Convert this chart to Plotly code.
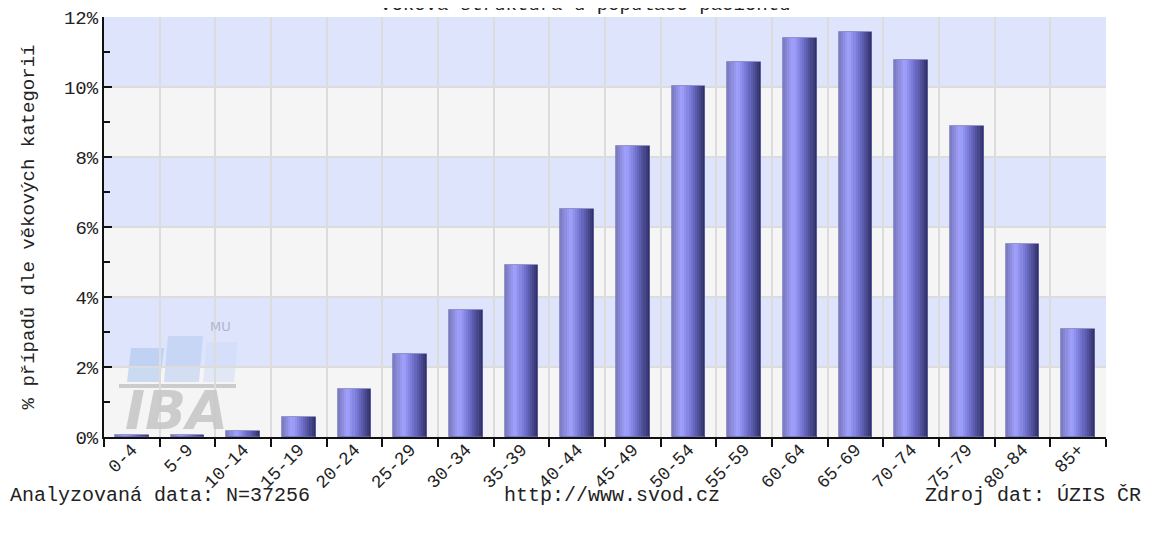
import plotly.graph_objects as go

# ---- data ----
age_groups = ["0-4", "5-9", "10-14", "15-19", "20-24", "25-29", "30-34", "35-39",
              "40-44", "45-49", "50-54", "55-59", "60-64", "65-69", "70-74",
              "75-79", "80-84", "85+"]
percent = [0.05, 0.05, 0.18, 0.58, 1.38, 2.37, 3.62, 4.92, 6.52, 8.31,
           10.03, 10.72, 11.41, 11.57, 10.78, 8.88, 5.52, 3.10]
y_ticks = [0, 2, 4, 6, 8, 10, 12]
y_tick_labels = ["0%", "2%", "4%", "6%", "8%", "10%", "12%"]

title_text = "Věková struktura u populace pacientů"
y_title = "% případů dle věkových kategorií"
footer_left = "Analyzovaná data: N=37256"
footer_mid = "http://www.svod.cz"
footer_right = "Zdroj dat: ÚZIS ČR"

FONT = "Liberation Mono"
FS = 20
OFF = 8  # page body margin
W, H = 1152 - OFF, 538 - OFF
# plot area in page pixels
PL, PR, PT, PB = 104, 1106, 17, 437
ML, MR, MT, MB = PL - OFF, W - (PR - OFF), PT - OFF, H - (PB - OFF)

# ---- gradient colour profile for cylinder-like bars ----
stops = [(0.0, (120, 120, 190)), (0.3, (162, 162, 255)), (0.6, (112, 112, 205)),
         (1.0, (44, 44, 98))]


def grad(t):
    for (t0, c0), (t1, c1) in zip(stops[:-1], stops[1:]):
        if t0 <= t <= t1:
            f = (t - t0) / (t1 - t0)
            return "rgb(%d,%d,%d)" % tuple(round(a + (b - a) * f) for a, b in zip(c0, c1))
    return "rgb(%d,%d,%d)" % stops[-1][1]


fig = go.Figure()
bar_w = 0.61
n_slices = 16
sw = bar_w / n_slices
for i in range(n_slices):
    fig.add_trace(go.Bar(
        x=age_groups, y=percent, width=sw * 1.15 if i < n_slices - 1 else sw,
        offset=-bar_w / 2 + i * sw,
        marker=dict(color=grad((i + 0.5) / n_slices), line=dict(width=0)),
        hoverinfo="skip", showlegend=False))
# outline
fig.add_trace(go.Bar(
    x=age_groups, y=percent, width=bar_w, offset=-bar_w / 2,
    marker=dict(color="rgba(0,0,0,0)", line=dict(width=1, color="rgba(110,110,180,0.7)")),
    showlegend=False, hovertemplate="%{x}: %{y}%<extra></extra>"))

shapes = []
# alternating horizontal bands
for k in range(len(y_ticks) - 1):
    if k % 2 == 1:
        shapes.append(dict(type="rect", xref="paper", yref="y", x0=0, x1=1,
                           y0=y_ticks[k], y1=y_ticks[k + 1], layer="below",
                           fillcolor="#dde4fc", line=dict(width=0)))


# page pixel -> paper helpers
def px(x):
    return (x - PL) / (PR - PL)


def py(y):
    return (PB - y) / (PB - PT)


def para(x0, x1, ytop, ybot, col, skew=4):
    return dict(type="path", xref="paper", yref="paper", layer="below",
                path="M %f,%f L %f,%f L %f,%f L %f,%f Z" % (
                    px(x0), py(ybot), px(x1), py(ybot), px(x1 + skew), py(ytop),
                    px(x0 + skew), py(ytop)),
                fillcolor=col, line=dict(width=0))


# IBA MU watermark logo
shapes.append(para(127, 160, 348, 382, "rgba(165,195,235,0.55)"))
shapes.append(para(164, 199, 336, 382, "rgba(180,200,240,0.5)"))
shapes.append(para(203, 234, 342, 382, "rgba(205,218,245,0.5)"))
shapes.append(dict(type="rect", xref="paper", yref="paper", layer="below",
                   x0=px(119), x1=px(236), y0=py(388), y1=py(384),
                   fillcolor="#cccccc", line=dict(width=0)))

fig.update_layout(
    width=W, height=H,
    margin=dict(l=ML, r=MR, t=MT, b=MB, autoexpand=False),
    paper_bgcolor="white", plot_bgcolor="#f5f5f5",
    barmode="overlay", bargap=0,
    shapes=shapes,
    font=dict(family=FONT, size=FS, color="#222"),
    xaxis=dict(
        type="category", tickson="boundaries", tickangle=-45, automargin=False,
        showgrid=True, gridcolor="#dcdcdc", gridwidth=2,
        ticks="outside", ticklen=8, tickwidth=2, tickcolor="#111",
        showline=True, linecolor="#111", linewidth=2,
        ticklabelstandoff=-7,
        tickfont=dict(family=FONT, size=FS - 2, color="#222"),
        range=[-0.5, len(age_groups) - 0.5], fixedrange=True),
    yaxis=dict(
        range=[0, 12], tickvals=y_ticks, ticktext=y_tick_labels, automargin=False,
        ticklabeloverflow="allow",
        showgrid=True, gridcolor="#dcdcdc", gridwidth=2,
        ticks="inside", ticklen=8, tickwidth=2, tickcolor="#111",
        minor=dict(dtick=1, ticks="inside", ticklen=6, tickwidth=2,
                   tickcolor="#111", showgrid=False),
        showline=True, linecolor="#111", linewidth=2,
        tickfont=dict(family=FONT, size=FS - 1, color="#222"),
        zeroline=False, fixedrange=True,
        title=dict(text=y_title, standoff=24,
                   font=dict(family=FONT, size=FS - 1, color="#222"))),
    annotations=[
        dict(text=title_text, xref="paper", yref="paper", x=px(585), y=1,
             yshift=MT + 3, xanchor="center", yanchor="middle", showarrow=False,
             font=dict(family=FONT, size=FS - 1, color="#222")),
        dict(text=footer_left, xref="paper", yref="paper", x=px(8), y=py(495),
             xanchor="left", yanchor="middle", showarrow=False),
        dict(text=footer_mid, xref="paper", yref="paper", x=px(612), y=py(495),
             xanchor="center", yanchor="middle", showarrow=False),
        dict(text=footer_right, xref="paper", yref="paper", x=px(1143), y=py(495),
             xanchor="right", yanchor="middle", showarrow=False),
        dict(text="<b><i>IBA</i></b>", xref="paper", yref="paper", x=px(176), y=py(410),
             xanchor="center", yanchor="middle", showarrow=False,
             font=dict(family="DejaVu Sans", size=54, color="rgba(200,200,200,0.9)")),
        dict(text="MU", xref="paper", yref="paper", x=px(220), y=py(326),
             xanchor="center", yanchor="middle", showarrow=False,
             font=dict(family="DejaVu Sans", size=13, color="rgba(170,175,200,0.9)")),
    ],
)

fig.write_html("out.html")
